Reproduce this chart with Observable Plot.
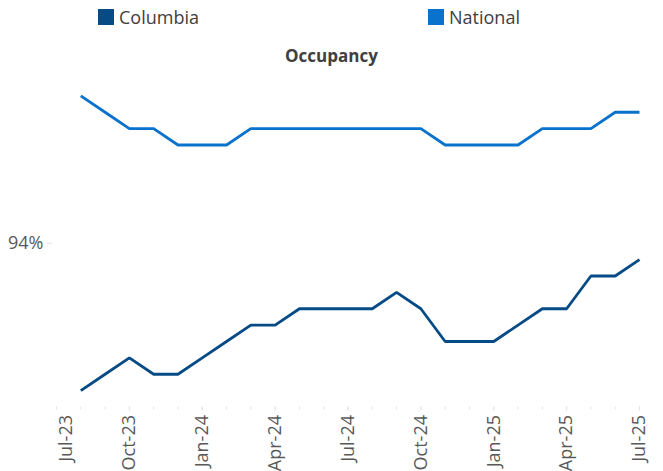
<!DOCTYPE html>
<html>
<head>
<meta charset="utf-8">
<script src="https://cdn.jsdelivr.net/npm/d3@7"></script>
<script src="https://cdn.jsdelivr.net/npm/@observablehq/plot@0.6"></script>
<style>
  html, body { margin: 0; padding: 0; background: #fff; }
  #wrap { position: relative; width: 663px; height: 471px; overflow: hidden; font-family: "Open Sans", sans-serif; }
  #header { position: relative; width: 663px; height: 70px; }
  .sw { position: absolute; top: 9px; width: 16px; height: 16px; }
  .lt { position: absolute; top: 4px; font-size: 18px; line-height: 26px; color: #404040; }
  #title { position: absolute; left: 0; width: 663px; top: 44px; text-align: center; font-size: 17px; font-weight: bold; color: #404040; line-height: 24px; }
</style>
</head>
<body>
<div id="wrap">
  <div id="header"></div>
  <div id="chart"></div>
</div>
<script>
const months = ["Aug-23","Sep-23","Oct-23","Nov-23","Dec-23","Jan-24","Feb-24","Mar-24","Apr-24","May-24","Jun-24","Jul-24",
                "Aug-24","Sep-24","Oct-24","Nov-24","Dec-24","Jan-25","Feb-25","Mar-25","Apr-25","May-25","Jun-25","Jul-25"];
const columbia = [93.1,93.2,93.3,93.2,93.2,93.3,93.4,93.5,93.5,93.6,93.6,93.6,
                  93.6,93.7,93.6,93.4,93.4,93.4,93.5,93.6,93.6,93.8,93.8,93.9];
const national = [94.9,94.8,94.7,94.7,94.6,94.6,94.6,94.7,94.7,94.7,94.7,94.7,
                  94.7,94.7,94.7,94.6,94.6,94.6,94.6,94.7,94.7,94.7,94.8,94.8];
const tickLabels = ["Jul-23","Oct-23","Jan-24","Apr-24","Jul-24","Oct-24","Jan-25","Apr-25","Jul-25"];
const yTicks = [94];
const seriesNames = ["Columbia","National"];
const colors = ["#074b86","#0872cc"];

const monNames = ["Jan","Feb","Mar","Apr","May","Jun","Jul","Aug","Sep","Oct","Nov","Dec"];
function monthIndex(label) {
  const [m, y] = label.split("-");
  return (2000 + +y - 2023) * 12 + monNames.indexOf(m) - 6;
}

const rows = [];
months.forEach((m, i) => {
  rows.push({series: "Columbia", x: monthIndex(m), v: columbia[i]});
  rows.push({series: "National", x: monthIndex(m), v: national[i]});
});

// header: legend + title
const header = document.getElementById("header");
const legendPos = [98, 428];
seriesNames.forEach((s, i) => {
  const sw = document.createElement("div");
  sw.className = "sw";
  sw.style.left = legendPos[i] + "px";
  sw.style.background = colors[i];
  header.appendChild(sw);
  const t = document.createElement("div");
  t.className = "lt";
  t.style.left = (legendPos[i] + 21) + "px";
  t.textContent = s;
  header.appendChild(t);
});
const title = document.createElement("div");
title.id = "title";
title.textContent = "Occupancy";
header.appendChild(title);

const majorTicks = tickLabels.map(monthIndex);
const minorTicks = d3.range(majorTicks[0], majorTicks[majorTicks.length - 1] + 1);

const chart = Plot.plot({
  width: 663,
  height: 401,
  marginTop: 9,
  marginBottom: 64.5,
  marginLeft: 56,
  marginRight: 24,
  style: {fontFamily: "Open Sans", fontSize: "18px", color: "#595959", background: "white"},
  x: {type: "linear", domain: [majorTicks[0], majorTicks[majorTicks.length - 1]]},
  y: {domain: [93, 95]},
  color: {domain: seriesNames, range: colors},
  marks: [
    Plot.axisX({ticks: minorTicks, tickSize: 3, tickFormat: () => "", stroke: "#e3e3e3", label: null}),
    Plot.axisX({ticks: majorTicks.slice(1), tickSize: 4, tickPadding: 4, tickRotate: -90,
      tickFormat: d => tickLabels[majorTicks.indexOf(d)], stroke: "#e3e3e3", fill: "#595959", label: null}),
    Plot.axisX({ticks: majorTicks.slice(0, 1), tickSize: 4, tickPadding: 4, tickRotate: -90, dx: 10,
      tickFormat: d => tickLabels[majorTicks.indexOf(d)], stroke: "none", fill: "#595959", label: null}),
    Plot.axisY({ticks: yTicks, tickSize: 5, tickPadding: 4, dx: -4, tickFormat: d => d + "%",
      stroke: "#e3e3e3", fill: "#595959", label: null}),
    Plot.line(rows, {x: "x", y: "v", z: "series", stroke: "series", strokeWidth: 2.8,
      strokeLinejoin: "miter", strokeLinecap: "butt"})
  ]
});
document.getElementById("chart").appendChild(chart);
</script>
</body>
</html>
